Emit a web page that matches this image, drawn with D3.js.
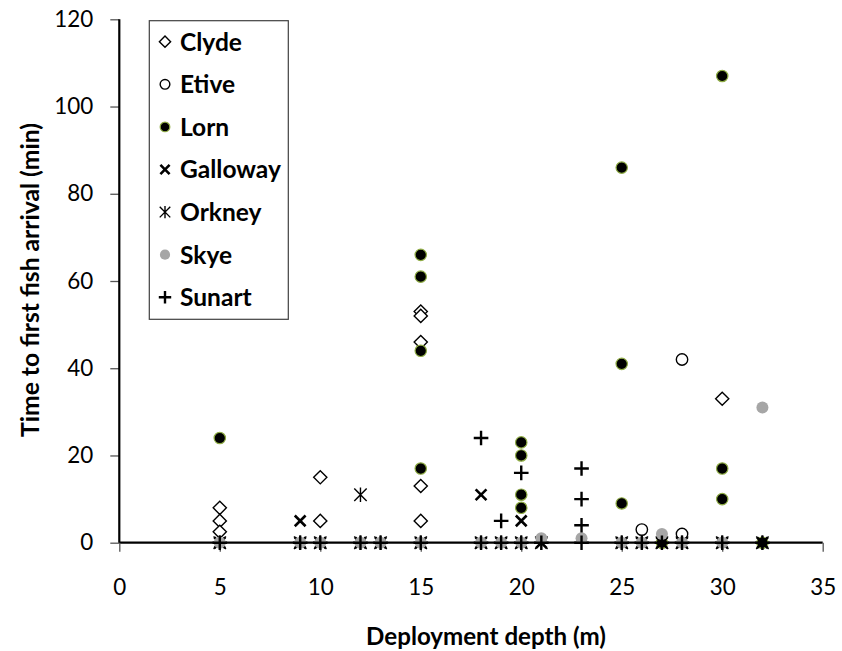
<!DOCTYPE html>
<html>
<head>
<meta charset="utf-8">
<script src="https://cdn.jsdelivr.net/npm/d3@7"></script>
<style>
  html, body { margin: 0; padding: 0; background: #fff; }
  svg { display: block; }
  text { font-family: Lato, "Open Sans", sans-serif; fill: #000; }
</style>
</head>
<body>
<svg id="chart" width="842" height="651"></svg>
<script>
// ---------------- DATA ----------------
const xTicks = [0, 5, 10, 15, 20, 25, 30, 35];
const yTicks = [0, 20, 40, 60, 80, 100, 120];
const seriesNames = ["Clyde", "Etive", "Lorn", "Galloway", "Orkney", "Skye", "Sunart"];

const clydeDepth = [5, 5, 5, 10, 10, 15, 15, 15, 15, 15, 30];
const clydeTime  = [8, 5, 2.5, 15, 5, 53, 52, 46, 13, 5, 33];

const etiveDepth = [26, 28, 28];
const etiveTime  = [3, 42, 2];

const lornDepth = [5, 15, 15, 15, 15, 20, 20, 20, 20, 25, 25, 25, 30, 30, 30, 27, 32];
const lornTime  = [24, 66, 61, 44, 17, 23, 20, 11, 8, 86, 41, 9, 107, 17, 10, 0, 0];

const gallowayDepth = [9, 18, 20, 5, 9, 10, 12, 13, 15, 18, 19, 20, 21, 25, 26, 27, 28, 30, 32];
const gallowayTime  = [5, 11, 5, 0, 0, 0, 0, 0, 0, 0, 0, 0, 0, 0, 0, 0, 0, 0, 0];

const orkneyDepth = [12, 5, 9, 10, 12, 13, 15, 18, 19, 20, 21, 25, 26, 27, 28, 30, 32];
const orkneyTime  = [11, 0, 0, 0, 0, 0, 0, 0, 0, 0, 0, 0, 0, 0, 0, 0, 0];

const skyeDepth = [21, 23, 27, 32, 5, 9, 10, 12, 13, 15, 18, 19, 20, 25, 26, 28, 30];
const skyeTime  = [1, 1, 2, 31, 0, 0, 0, 0, 0, 0, 0, 0, 0, 0, 0, 0, 0];

const sunartDepth = [18, 19, 20, 23, 23, 23, 5, 9, 10, 12, 13, 15, 18, 19, 20, 21, 23, 25, 26, 27, 28, 30, 32];
const sunartTime  = [24, 5, 16, 17, 10, 4, 0, 0, 0, 0, 0, 0, 0, 0, 0, 0, 0, 0, 0, 0, 0, 0, 0];

// ---------------- LAYOUT ----------------
const svg = d3.select("#chart");
const x = d3.scaleLinear().domain([0, 35]).range([119.3, 822.7]);
const y = d3.scaleLinear().domain([0, 120]).range([542.7, 19.3]);

const zip = (a, b) => a.map((d, i) => ({ depth: d, time: b[i] }));
const series = [
  { name: seriesNames[0], kind: "diamond", data: zip(clydeDepth, clydeTime) },
  { name: seriesNames[1], kind: "open",    data: zip(etiveDepth, etiveTime) },
  { name: seriesNames[2], kind: "lorn",    data: zip(lornDepth, lornTime) },
  { name: seriesNames[3], kind: "x",       data: zip(gallowayDepth, gallowayTime) },
  { name: seriesNames[4], kind: "star",    data: zip(orkneyDepth, orkneyTime) },
  { name: seriesNames[5], kind: "grey",    data: zip(skyeDepth, skyeTime) },
  { name: seriesNames[6], kind: "plus",    data: zip(sunartDepth, sunartTime) }
];

// scale a text's font size so that its rendered width matches a target width
function fitWidth(sel, target) {
  const node = sel.node();
  const w = node.getComputedTextLength();
  const fs = parseFloat(sel.attr("font-size"));
  const nfs = w > 0 ? fs * target / w : fs;
  return nfs;
}

function drawMarker(g, kind, s) {
  if (kind === "diamond") {
    const h = 6.6 * s;
    g.append("path").attr("d", `M0,${-h}L${h},0L0,${h}L${-h},0Z`)
      .attr("fill", "#fff").attr("stroke", "#000").attr("stroke-width", 1.4);
  } else if (kind === "open") {
    g.append("circle").attr("r", 5.7 * s).attr("fill", "#fff")
      .attr("stroke", "#000").attr("stroke-width", 1.4);
  } else if (kind === "lorn") {
    g.append("circle").attr("r", 5.7 * s).attr("fill", "#000")
      .attr("stroke", "#8fac45").attr("stroke-width", 1.2);
  } else if (kind === "grey") {
    g.append("circle").attr("r", 6 * s).attr("fill", "#a6a6a6");
  } else if (kind === "x") {
    const h = 5.4 * s;
    g.append("path").attr("d", `M${-h},${-h}L${h},${h}M${-h},${h}L${h},${-h}`)
      .attr("stroke", "#000").attr("stroke-width", 2.6).attr("fill", "none");
  } else if (kind === "star") {
    const h = 7.2 * s, d = 6.2 * s;
    g.append("path").attr("d", `M0,${-h}L0,${h}M${-d},${-d}L${d},${d}M${-d},${d}L${d},${-d}`)
      .attr("stroke", "#000").attr("stroke-width", 1.4).attr("fill", "none");
  } else if (kind === "plus") {
    const h = 7.3 * s;
    g.append("path").attr("d", `M0,${-h}L0,${h}M${-h},0L${h},0`)
      .attr("stroke", "#000").attr("stroke-width", 2.4).attr("fill", "none");
  }
}

// x axis line (beneath markers)
svg.append("line")
  .attr("x1", x(0)).attr("x2", x(35)).attr("y1", y(0)).attr("y2", y(0))
  .attr("stroke", "#000").attr("stroke-width", 2.2);

// axes
const yAxis = d3.axisLeft(y).tickValues(yTicks).tickSize(9).tickPadding(17);
const xAxis = d3.axisBottom(x).tickValues(xTicks).tickSize(9);

const gy = svg.append("g").attr("transform", `translate(${x(0)},0)`).call(yAxis);
const gx = svg.append("g").attr("transform", `translate(0,${y(0)})`).call(xAxis);
[gx, gy].forEach(g => {
  g.select(".domain").remove();
  g.selectAll(".tick line").attr("stroke", "#555").attr("stroke-width", 1.3);
  g.selectAll(".tick text").attr("font-size", 22).attr("font-family", "Lato, sans-serif").attr("fill", "#000");
});
// size tick labels so "120" is about 39 px wide
const t120 = gy.selectAll(".tick text").filter(d => d === 120);
const tickFs = Math.min(23, fitWidth(t120, 39));
gx.selectAll(".tick text").attr("font-size", tickFs).attr("y", 52).attr("dy", 0);
gy.selectAll(".tick text").attr("font-size", tickFs);

svg.append("line").attr("x1", x(0)).attr("x2", x(0)).attr("y1", y(120)).attr("y2", y(0))
  .attr("stroke", "#000").attr("stroke-width", 2.2);

// points
const plot = svg.append("g");
series.forEach(s => {
  const gs = plot.append("g").attr("class", "series-" + s.name);
  s.data.forEach(d => {
    const g = gs.append("g").attr("transform", `translate(${x(d.depth)},${y(d.time)})`);
    drawMarker(g, s.kind, 1);
  });
});

// axis titles
const xt = svg.append("text").attr("x", 486).attr("y", 645)
  .attr("text-anchor", "middle").attr("font-size", 22).attr("font-weight", 700)
  .text("Deployment depth (m)");
xt.attr("font-size", fitWidth(xt, 240));
const ytt = svg.append("text").attr("transform", `translate(39,280) rotate(-90)`)
  .attr("text-anchor", "middle").attr("font-size", 22).attr("font-weight", 700)
  .text("Time to first fish arrival (min)");
ytt.attr("font-size", fitWidth(ytt, 314));

// legend
const lg = svg.append("g");
lg.append("rect").attr("x", 149.3).attr("y", 20.7).attr("width", 139).attr("height", 298.6)
  .attr("fill", "#fff").attr("stroke", "#404040").attr("stroke-width", 1.2);
const legendTexts = [];
series.forEach((s, i) => {
  const cy = 41.7 + i * 42.6;
  const g = lg.append("g").attr("transform", `translate(165,${cy})`);
  drawMarker(g, s.kind, 0.85);
  legendTexts.push(lg.append("text").attr("x", 180).attr("y", cy).attr("dy", "0.36em")
    .attr("font-size", 24).attr("font-weight", 700).text(s.name));
});
const legFs = fitWidth(legendTexts[3], 101);
legendTexts.forEach(t => t.attr("font-size", legFs));
</script>
</body>
</html>
